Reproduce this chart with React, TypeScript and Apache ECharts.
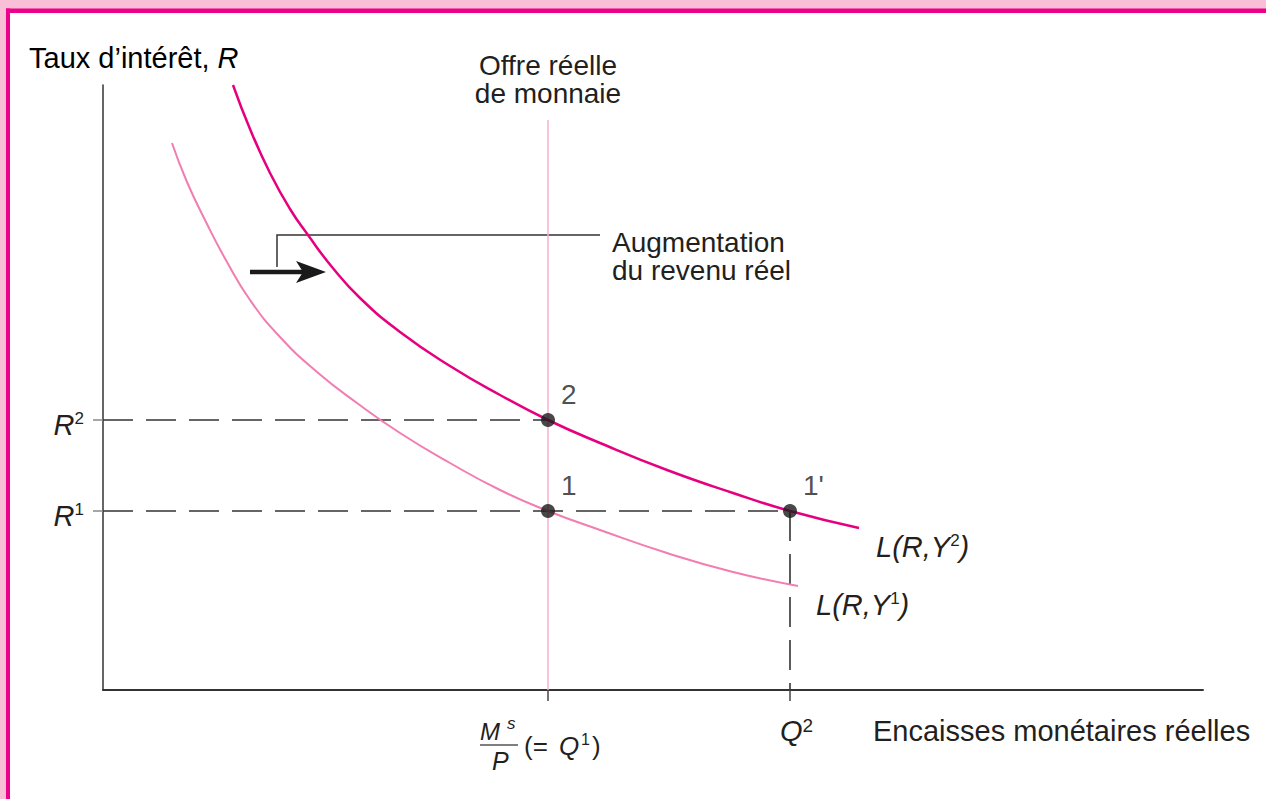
import React, { useEffect, useRef } from "react";
import * as echarts from "echarts";

// ---- data (arbitrary units: money on x, interest rate on y) ----
const Q1 = 44.5; // Ms/P (= Q1)
const Q2 = 68.7;
const R1 = 17.9;
const R2 = 27.0;
const SUPPLY_TOP = 57.0;

const curveY2: [number, number][] = [
  [13.0, 60.5], [14.7, 56.1], [16.7, 51.7], [18.7, 48.1], [20.5, 45.5],
  [22.9, 42.3], [25.7, 39.2], [29.7, 35.8], [34.7, 32.4], [39.7, 29.5],
  [44.5, 27.0], [49.7, 24.7], [56.4, 22.0], [63.0, 19.7], [68.7, 17.9],
  [75.6, 16.2],
];
const curveY1: [number, number][] = [
  [6.9, 54.7], [8.4, 50.8], [10.4, 46.6], [12.4, 42.8], [14.7, 39.0],
  [17.7, 35.3], [21.4, 31.8], [25.4, 28.7], [29.7, 25.7], [34.7, 22.7],
  [39.7, 20.0], [44.5, 17.9], [49.7, 16.0], [56.4, 13.7], [63.0, 11.8],
  [69.5, 10.4],
];
const equilibria: [number, number][] = [[Q1, R2], [Q1, R1], [Q2, R1]];
const pointLabels = ["2", "1", "1'"];
const yTickValues = [R1, R2];
const yTickSup = ["1", "2"];
const xTickValues = [Q1, Q2];
const xLabelValues = [Q2];
const xLabelSup = ["2"];

const FONT = "'Liberation Sans', Arial, Helvetica, sans-serif";
const TXT = "#231f20";
const DARK_PINK = "#e6007e";
const LIGHT_PINK = "#f27db0";
const FS = 29;

export default function App() {
  const ref = useRef<HTMLDivElement>(null);
  useEffect(() => {
    if (!ref.current) return;
    const chart = echarts.init(ref.current, null, { renderer: "svg" });
    const rich = {
      n: { fontSize: FS, fontFamily: FONT, color: TXT, lineHeight: 30 },
      i: { fontSize: FS, fontFamily: FONT, color: TXT, fontStyle: "italic", lineHeight: 30 },
      s: { fontSize: 17, fontFamily: FONT, color: TXT, verticalAlign: "top", lineHeight: 17 },
      s2: { fontSize: 19, fontFamily: FONT, color: TXT, verticalAlign: "top", lineHeight: 19 },
    };
    const dash = [30, 13];
    const txt = (x: number, y: number, text: string, font: string, align = "left") => ({
      type: "text",
      style: { x, y, text, font, fill: TXT, align, verticalAlign: "middle" },
    });
    const option: any = {
      animation: false,
      backgroundColor: "#ffffff",
      grid: { left: 103, top: 85, width: 1100, height: 605, containLabel: false },
      xAxis: {
        type: "value",
        min: 0,
        max: 110,
        splitLine: { show: false },
        axisLine: { show: true, lineStyle: { color: "#333", width: 2 } },
        axisTick: { show: true, customValues: xTickValues, length: 11, lineStyle: { color: "#444", width: 1.5 } },
        axisLabel: {
          show: true,
          customValues: xLabelValues,
          margin: 26,
          padding: [0, 0, 0, 13],
          formatter: (v: number) => {
            const k = xLabelValues.indexOf(v);
            return "{i|Q}{s2|" + xLabelSup[k] + "}";
          },
          rich,
        },
      },
      yAxis: {
        type: "value",
        min: 0,
        max: 60.5,
        splitLine: { show: false },
        axisLine: { show: true, lineStyle: { color: "#333", width: 1.5 } },
        axisTick: { show: true, customValues: yTickValues, length: 10, lineStyle: { color: "#888", width: 1.5 } },
        axisLabel: {
          show: true,
          customValues: yTickValues,
          margin: 19,
          padding: [10, 0, 0, 0],
          formatter: (v: number) => {
            const k = yTickValues.indexOf(v);
            return "{i|R}{s|" + yTickSup[k] + "}";
          },
          rich,
        },
      },
      series: [
        {
          type: "line",
          data: [[Q1, 0], [Q1, SUPPLY_TOP]],
          symbol: "none",
          lineStyle: { color: "#f7b0cf", width: 1.5 },
          z: 1,
        },
        {
          type: "line",
          data: [[0, R2], [Q1, R2]],
          symbol: "none",
          lineStyle: { color: "#333", width: 1.6, type: dash },
          z: 2,
        },
        {
          type: "line",
          data: [[0, R1], [Q2, R1]],
          symbol: "none",
          lineStyle: { color: "#333", width: 1.6, type: dash },
          z: 2,
        },
        {
          type: "line",
          data: [[Q2, R1], [Q2, 0]],
          symbol: "none",
          lineStyle: { color: "#333", width: 1.6, type: dash },
          z: 2,
        },
        {
          type: "line",
          data: curveY1,
          smooth: 0.5,
          symbol: "none",
          lineStyle: { color: LIGHT_PINK, width: 2 },
          endLabel: {
            show: true,
            position: "right",
            distance: 8,
            offset: [10, 19],
            formatter: "{i|L(R,Y}{s|1}{i|)}",
            rich,
          },
          z: 3,
        },
        {
          type: "line",
          data: curveY2,
          smooth: 0.5,
          symbol: "none",
          lineStyle: { color: DARK_PINK, width: 2.5 },
          endLabel: {
            show: true,
            position: "right",
            distance: 8,
            offset: [9, 19],
            formatter: "{i|L(R,Y}{s|2}{i|)}",
            rich,
          },
          z: 3,
        },
        {
          type: "scatter",
          data: equilibria,
          symbol: "circle",
          symbolSize: 14,
          itemStyle: { color: "#1a1a1a" },
          label: {
            show: true,
            position: [20, -33],
            formatter: (p: any) => pointLabels[p.dataIndex],
            fontSize: 28,
            fontFamily: FONT,
            color: TXT,
            align: "left",
            verticalAlign: "top",
          },
          z: 5,
        },
      ],
      graphic: [
        // pink frame
        { type: "rect", shape: { x: 0, y: 0, width: 1266, height: 9 }, style: { fill: "#f8bfd7" }, silent: true },
        { type: "rect", shape: { x: 0, y: 0, width: 6, height: 799 }, style: { fill: "#f8bfd7" }, silent: true },
        { type: "rect", shape: { x: 6, y: 8.5, width: 1260, height: 4.5 }, style: { fill: "#ec008c" }, silent: true },
        { type: "rect", shape: { x: 6, y: 8.5, width: 4, height: 790.5 }, style: { fill: "#ec008c" }, silent: true },
        // axis titles
        {
          type: "text",
          style: { x: 29, y: 58, text: "{n|Taux d’intérêt, }{i|R}", rich, align: "left", verticalAlign: "middle" },
        },
        txt(873, 731, "Encaisses monétaires réelles", FS + "px " + FONT),
        txt(548, 65, "Offre réelle", "28px " + FONT, "center"),
        txt(548, 93, "de monnaie", "28px " + FONT, "center"),
        txt(612, 242, "Augmentation", "28px " + FONT),
        txt(612, 270, "du revenu réel", "28px " + FONT),
        // annotation bracket and arrow
        { type: "polyline", shape: { points: [[600, 235], [277, 235], [277, 267]] }, style: { stroke: "#333", lineWidth: 1.5, fill: null } },
        { type: "line", shape: { x1: 250, y1: 272, x2: 305, y2: 272 }, style: { stroke: "#1a1a1a", lineWidth: 4.5 } },
        { type: "polygon", shape: { points: [[326, 272], [296, 261], [303, 272], [296, 283]] }, style: { fill: "#1a1a1a" } },
        // Ms/P (= Q1) label
        txt(480, 731, "M", "italic 24px " + FONT),
        txt(507, 723, "s", "italic 17px " + FONT),
        { type: "line", shape: { x1: 480, y1: 745, x2: 518, y2: 745 }, style: { stroke: "#555", lineWidth: 1.5 } },
        txt(492, 761, "P", "italic 25px " + FONT),
        txt(524, 746, "(= ", "26px " + FONT),
        txt(559, 746, "Q", "italic 26px " + FONT),
        txt(581, 739, "1", "16px " + FONT),
        txt(592, 746, ")", "26px " + FONT),
      ],
    };
    chart.setOption(option);
    return () => chart.dispose();
  }, []);
  return (
    <div
      ref={ref}
      style={{ position: "fixed", left: 0, top: 0, width: 1266, height: 799, background: "#fff" }}
    />
  );
}
